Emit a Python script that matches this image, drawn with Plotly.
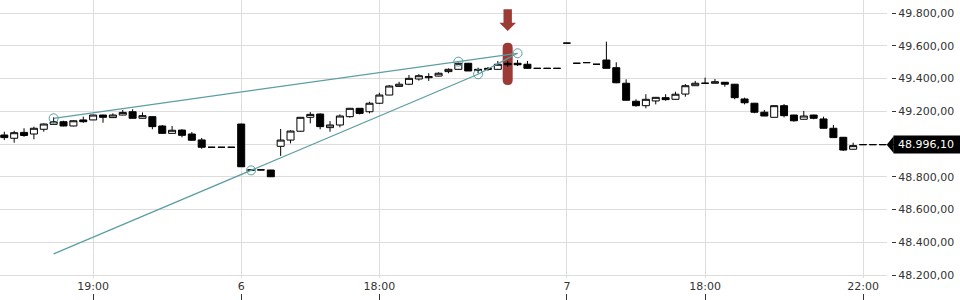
import plotly.graph_objects as go

# ---------------- data ----------------
bar_index = list(range(90))
opens = [49055, 49035, 49071, 49061, 49090, 49120, 49136, 49110, 49147, 49147,
         49177, 49161, 49177, 49197, 49157, 49167, 49110, 49065, 49085, 49061,
         49025, 48980, 48980, 48980, 49122, 48841, 48842, 48841, 48986, 49024,
         49078, 49163, 49183, 49100, 49116, 49167, 49218, 49197, 49249, 49299,
         49352, 49365, 49397, 49405, 49415, 49442, 49456, 49493, 49456, 49455,
         49456, 49493, 49493, 49487, 49462, 49462, 49462, 49616, 49493, 49497,
         49487, 49513, 49466, 49371, 49261, 49234, 49263, 49283, 49273, 49305,
         49356, 49371, 49371, 49377, 49365, 49275, 49249, 49194, 49163, 49234,
         49177, 49151, 49177, 49153, 49096, 49041, 48968, 48996.1, 48996.1, 48996.1]
highs = [49075, 49081, 49096, 49106, 49126, 49163, 49142, 49144, 49167, 49179,
         49179, 49187, 49208, 49212, 49193, 49170, 49116, 49110, 49090, 49073,
         49037, 48980, 48980, 48980, 49124, 48841, 48842, 48842, 49092, 49084,
         49165, 49195, 49187, 49140, 49181, 49220, 49220, 49258, 49313, 49360,
         49380, 49421, 49427, 49432, 49438, 49462, 49497, 49495, 49466, 49470,
         49507, 49507, 49513, 49507, 49462, 49462, 49462, 49616, 49493, 49497,
         49487, 49625, 49499, 49395, 49273, 49304, 49287, 49304, 49319, 49366,
         49385, 49405, 49397, 49379, 49367, 49283, 49251, 49208, 49236, 49244,
         49178, 49202, 49178, 49167, 49116, 49043, 49008, 48996.1, 48996.1, 48996.1]
lows = [49024, 49008, 49044, 49029, 49075, 49120, 49108, 49107, 49130, 49146,
        49130, 49160, 49176, 49155, 49156, 49090, 49061, 49064, 49041, 49020,
        48971, 48980, 48980, 48980, 48860, 48841, 48842, 48799, 48927, 49004,
        49076, 49126, 49090, 49075, 49102, 49161, 49181, 49187, 49244, 49298,
        49350, 49360, 49387, 49385, 49413, 49432, 49454, 49446, 49432, 49447,
        49454, 49472, 49476, 49460, 49462, 49462, 49462, 49616, 49493, 49497,
        49487, 49462, 49371, 49266, 49228, 49218, 49242, 49264, 49272, 49289,
        49355, 49370, 49370, 49350, 49273, 49242, 49188, 49170, 49162, 49163,
        49136, 49150, 49151, 49095, 49037, 48957, 48966, 48996.1, 48996.1, 48996.1]
closes = [49039, 49069, 49052, 49096, 49122, 49136, 49110, 49142, 49136, 49177,
          49163, 49177, 49193, 49157, 49173, 49106, 49065, 49084, 49053, 49023,
          48980, 48980, 48980, 48980, 48861, 48841, 48842, 48800, 49024, 49079,
          49163, 49181, 49106, 49116, 49171, 49218, 49187, 49249, 49299, 49354,
          49365, 49401, 49417, 49411, 49432, 49456, 49493, 49446, 49450, 49462,
          49487, 49484, 49484, 49462, 49462, 49462, 49462, 49616, 49493, 49497,
          49487, 49462, 49374, 49267, 49234, 49273, 49285, 49271, 49304, 49356,
          49371, 49371, 49380, 49365, 49283, 49252, 49194, 49171, 49234, 49173,
          49142, 49171, 49157, 49096, 49039, 48963, 48990, 48996.1, 48996.1, 48996.1]

x_tick_index = [9, 24, 38, 57, 71, 87]
x_tick_text = ["19:00", "6", "18:00", "7", "18:00", "22:00"]
y_tick_values = [48200, 48400, 48600, 48800, 49000, 49200, 49400, 49600, 49800]

last_price = 48996.10

trend_a_index = [5, 46, 52]
trend_a_value = [49157, 49503, 49554]
trend_b_index = [5, 25, 48]
trend_b_value = [48329, 48839, 49426]
connector_index = [48, 52]
connector_value = [49426, 49554]
circle_index = [5, 46, 52, 25, 48]
circle_value = [49157, 49503, 49554, 48839, 49426]

highlight_index = 51

# ---------------- styling / layout constants ----------------
W, H = 960, 300
PLOT_RIGHT = 887
PLOT_BOTTOM = 278
X_RANGE = [-0.436, 89.43]
Y_RANGE = [48181.7, 49879.4]
GRID = "#dddddd"
TEAL = "#5b9ea4"
RED = "#9c3b36"
TXT = "#333333"
FONT = "DejaVu Sans"

fig = go.Figure()

fig.add_trace(go.Candlestick(
    x=bar_index, open=opens, high=highs, low=lows, close=closes,
    increasing=dict(line=dict(color="black", width=1), fillcolor="white"),
    decreasing=dict(line=dict(color="black", width=1), fillcolor="black"),
    whiskerwidth=0, showlegend=False, hoverinfo="skip",
))

for xi, yv in [(trend_a_index, trend_a_value), (trend_b_index, trend_b_value),
               (connector_index, connector_value)]:
    fig.add_trace(go.Scatter(x=xi, y=yv, mode="lines",
                             line=dict(color=TEAL, width=1.2),
                             showlegend=False, hoverinfo="skip"))

fig.add_trace(go.Scatter(x=circle_index, y=circle_value, mode="markers",
                         marker=dict(symbol="circle-open", size=9,
                                     color=TEAL, line=dict(width=1, color=TEAL)),
                         showlegend=False, hoverinfo="skip"))

# invisible trace to carry the secondary x axis (bottom tick marks)
fig.add_trace(go.Scatter(x=[x_tick_index[0]], y=[last_price], xaxis="x2",
                         mode="markers", marker=dict(opacity=0),
                         showlegend=False, hoverinfo="skip"))

# highlight bar + arrow over the highlighted candle
hl_mid = (highs[highlight_index] + lows[highlight_index]) / 2
bar_path = ("M -5,-16.2 L -5,16.2 Q -5,21.2 0,21.2 Q 5,21.2 5,16.2 "
            "L 5,-16.2 Q 5,-21.2 0,-21.2 Q -5,-21.2 -5,-16.2 Z")
tip = 32.8
arrow_path = (f"M 0,{tip} L -8.3,{tip+8.4} L -4.2,{tip+8.4} L -4.2,{tip+21.7} "
              f"L 4.2,{tip+21.7} L 4.2,{tip+8.4} L 8.3,{tip+8.4} Z")
for p, layer in [(bar_path, "between"), (arrow_path, "above")]:
    fig.add_shape(type="path", path=p, xref="x", yref="y",
                  xsizemode="pixel", ysizemode="pixel",
                  xanchor=highlight_index, yanchor=hl_mid,
                  fillcolor=RED, line=dict(width=0), layer=layer)

# last price tag
dom_bottom = (H - PLOT_BOTTOM) / H
py = dom_bottom + (last_price - Y_RANGE[0]) / (Y_RANGE[1] - Y_RANGE[0]) * (PLOT_BOTTOM / H)
hh = 8.3 / H
fig.add_shape(type="path", xref="paper", yref="paper",
              path=f"M {886.7/W},{py} L {893.6/W},{py+hh} L {893.6/W},{py-hh} Z",
              fillcolor="black", line=dict(width=0), layer="above")
label = f"{last_price:,.2f}".replace(",", "X").replace(".", ",").replace("X", ".")
fig.add_annotation(x=893 / W, xref="paper", xanchor="left",
                   y=last_price, yref="y", yanchor="middle",
                   text=label, showarrow=False, align="left",
                   width=63, height=9, borderpad=4, bgcolor="black",
                   font=dict(family=FONT, size=11, color="white"))

fig.update_layout(
    width=W, height=H,
    margin=dict(l=0, r=0, t=0, b=0),
    paper_bgcolor="white", plot_bgcolor="white",
    separators=",.",
    boxgap=0.29, boxgroupgap=0,
    font=dict(family=FONT, size=11, color=TXT),
    showlegend=False,
    xaxis=dict(domain=[0, PLOT_RIGHT / W], range=X_RANGE,
               tickmode="array", tickvals=x_tick_index, ticktext=x_tick_text,
               showgrid=True, gridcolor=GRID, gridwidth=1,
               zeroline=False, showline=False, ticks="",
               rangeslider=dict(visible=False),
               tickfont=dict(family=FONT, size=11, color=TXT)),
    xaxis2=dict(overlaying="x", anchor="free", position=0, range=X_RANGE,
                tickmode="array", tickvals=x_tick_index,
                showticklabels=False, showgrid=False, zeroline=False,
                showline=False, ticks="inside", ticklen=6, tickwidth=1,
                tickcolor=TXT),
    yaxis=dict(domain=[dom_bottom, 1], range=Y_RANGE,
               side="right", anchor="free", position=891 / W,
               tickmode="array", tickvals=y_tick_values, tickformat=",.2f",
               showgrid=True, gridcolor=GRID, gridwidth=1,
               zeroline=False, showline=False,
               ticks="outside", ticklen=4, tickwidth=1, tickcolor=TXT,
               automargin=False,
               tickfont=dict(family=FONT, size=11, color=TXT)),
)

fig.write_html("out.html")
